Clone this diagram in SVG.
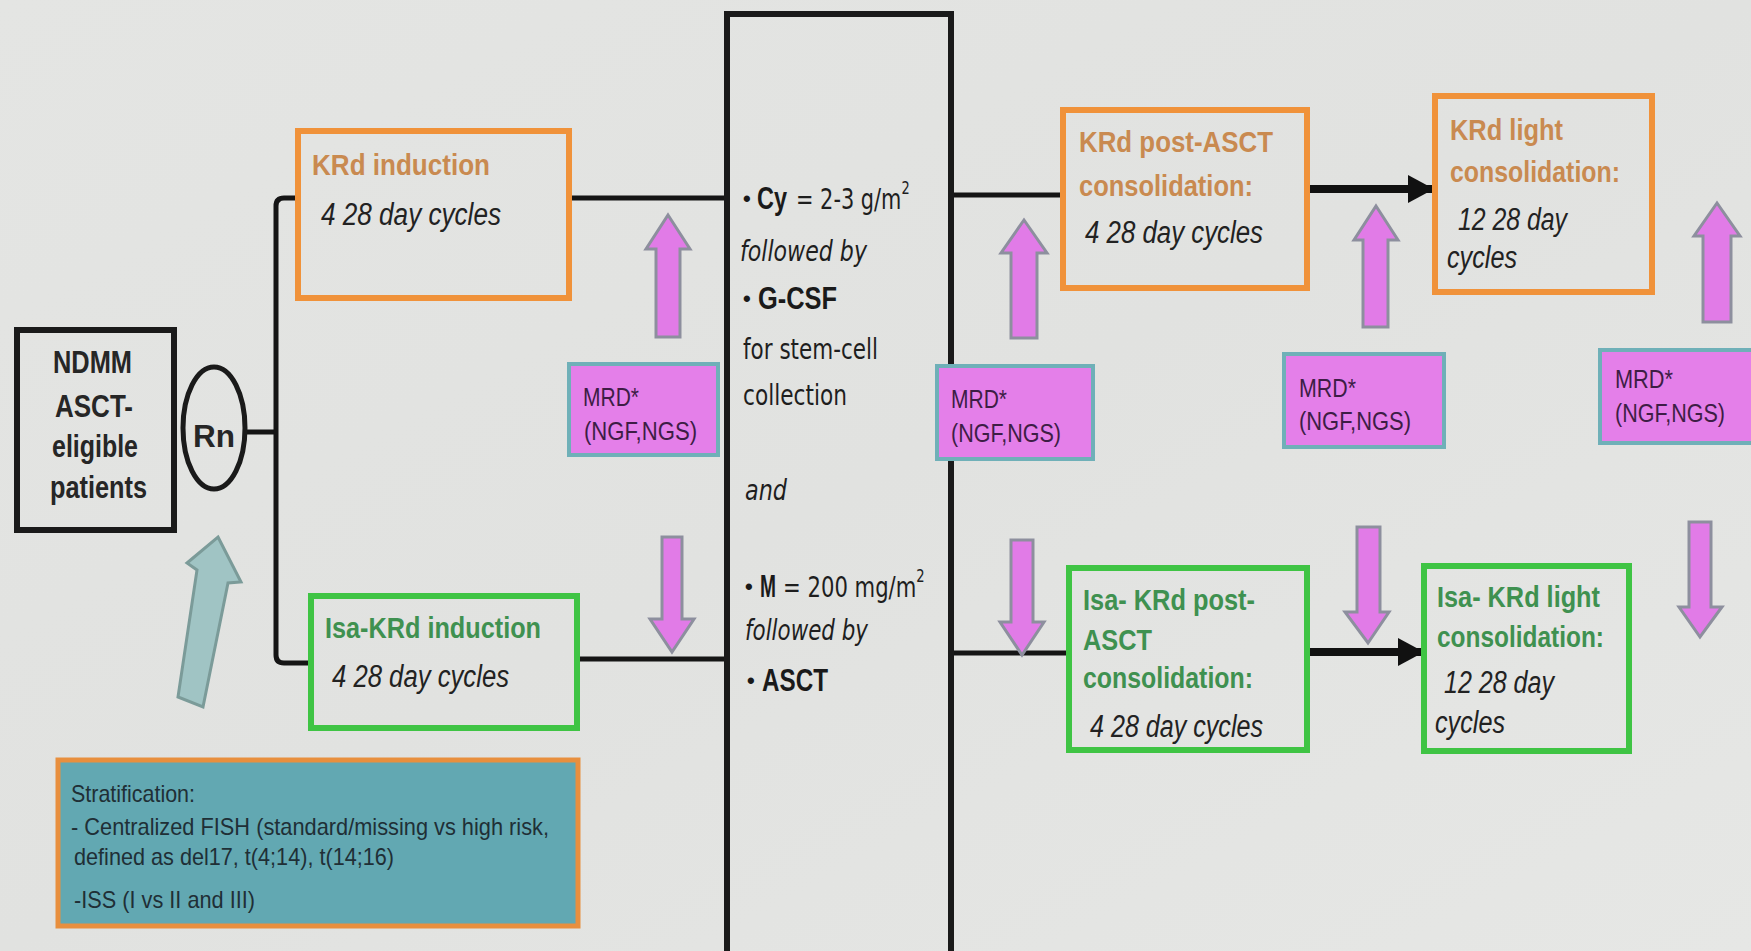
<svg xmlns="http://www.w3.org/2000/svg" width="1751" height="951" viewBox="0 0 1751 951">
  <defs>
    <linearGradient id="bg" x1="0" y1="0" x2="1" y2="1">
      <stop offset="0" stop-color="#e4e5e3"/>
      <stop offset="0.5" stop-color="#e1e2e0"/>
      <stop offset="1" stop-color="#e6e7e5"/>
    </linearGradient>
    <marker id="head" markerUnits="userSpaceOnUse" markerWidth="26" markerHeight="28" refX="24" refY="14" orient="auto">
      <path d="M0,0 L26,14 L0,28 Z" fill="#111"/>
    </marker>
    <style>
      .frame-o { fill: none; stroke: #f0923a; stroke-width: 6; }
      .frame-g { fill: none; stroke: #3fc444; stroke-width: 6; }
      .frame-k { fill: none; stroke: #1a1a1a; stroke-width: 6; }
      .mrd-box { fill: #e47fe9; stroke: #6fb0b8; stroke-width: 4; }
      .mrd { font-family: "Liberation Sans", Arial, sans-serif; font-size: 25px; fill: #3d1d45; }
      .pink { fill: #e17be7; stroke: #8d8f9e; stroke-width: 3; stroke-linejoin: miter; }
      .t-o { font-family: "Liberation Sans", Arial, sans-serif; font-weight: bold; font-size: 30px; fill: #c98a50; }
      .t-g { font-family: "Liberation Sans", Arial, sans-serif; font-weight: bold; font-size: 30px; fill: #3f9150; }
      .it { font-family: "Liberation Sans", Arial, sans-serif; font-style: italic; font-size: 31px; fill: #222; }
      .blk { font-family: "Liberation Sans", Arial, sans-serif; font-weight: bold; font-size: 31px; fill: #262626; }
      .mid { font-family: "DejaVu Sans", Verdana, sans-serif; font-size: 29px; fill: #1e1e1e; }
      .mid-b { font-family: "Liberation Sans", Arial, sans-serif; font-weight: bold; font-size: 31px; fill: #1a1a1a; }
      .mid-i { font-family: "DejaVu Sans", Verdana, sans-serif; font-style: italic; font-size: 29px; fill: #1e1e1e; }
      .dot { font-family: "Liberation Sans", Arial, sans-serif; font-weight: bold; font-size: 22px; fill: #1a1a1a; }
      .sup { font-size: 18px; }
      .strat { font-family: "Liberation Sans", Arial, sans-serif; font-size: 24px; fill: #1f2f36; }
      .wire { fill: none; stroke: #151515; stroke-width: 5; stroke-linejoin: round; }
      .flow { fill: none; stroke: #111; stroke-width: 8; }
    </style>
  </defs>

  <rect x="0" y="0" width="1751" height="951" fill="url(#bg)"/>

  <!-- connectors -->
  <g id="connectors">
    <path class="wire" d="M247,432 H275"/>
    <path class="wire" d="M298,198 H284 Q276,198 276,206 V655 Q276,663 284,663 H310"/>
    <path class="wire" d="M569,198 H726"/>
    <path class="wire" d="M578,659 H726"/>
    <path class="wire" d="M952,195 H1063"/>
    <path class="wire" d="M952,653 H1069"/>
    <path class="flow" d="M1308,189 H1432" marker-end="url(#head)"/>
    <path class="flow" d="M1307,652 H1422" marker-end="url(#head)"/>
  </g>

  <!-- patient population -->
  <g id="ndmm">
    <rect class="frame-k" x="17" y="330" width="157" height="200"/>
    <text class="blk" x="53" y="373" textLength="79" lengthAdjust="spacingAndGlyphs">NDMM</text>
    <text class="blk" x="55" y="417" textLength="78" lengthAdjust="spacingAndGlyphs">ASCT-</text>
    <text class="blk" x="52" y="457" textLength="86" lengthAdjust="spacingAndGlyphs">eligible</text>
    <text class="blk" x="50" y="498" textLength="97" lengthAdjust="spacingAndGlyphs">patients</text>
  </g>

  <!-- randomisation -->
  <g id="rn">
    <ellipse cx="214" cy="428" rx="31" ry="61" fill="none" stroke="#1a1a1a" stroke-width="5"/>
    <text class="blk" x="193" y="447" font-size="37" textLength="42" lengthAdjust="spacingAndGlyphs">Rn</text>
  </g>

  <!-- stratification pointer -->
  <g id="strat-arrow">
    <path d="M218,537 L241,582 L228,583 L203,707 L178,697 L197,570 L187,563 Z" fill="#a0c4c4" stroke="#7b9b99" stroke-width="3" stroke-linejoin="miter"/>
  </g>

  <!-- induction arms -->
  <g id="krd-induction">
    <rect class="frame-o" x="298" y="131" width="271" height="167"/>
    <text class="t-o" x="312" y="175" textLength="178" lengthAdjust="spacingAndGlyphs">KRd induction</text>
    <text class="it" x="321" y="225" textLength="180" lengthAdjust="spacingAndGlyphs">4 28 day cycles</text>
  </g>
  <g id="isa-krd-induction">
    <rect class="frame-g" x="311" y="596" width="266" height="132"/>
    <text class="t-g" x="325" y="638" textLength="216" lengthAdjust="spacingAndGlyphs">Isa-KRd induction</text>
    <text class="it" x="332" y="687" textLength="177" lengthAdjust="spacingAndGlyphs">4 28 day cycles</text>
  </g>

  <!-- stratification factors -->
  <g id="stratification">
    <rect x="58" y="760" width="520" height="166" fill="#62a8b2" stroke="#e88f3e" stroke-width="5"/>
    <text class="strat" x="71" y="802" textLength="124" lengthAdjust="spacingAndGlyphs">Stratification:</text>
    <text class="strat" x="71" y="835" textLength="478" lengthAdjust="spacingAndGlyphs">- Centralized FISH (standard/missing vs high risk,</text>
    <text class="strat" x="74" y="865" textLength="320" lengthAdjust="spacingAndGlyphs">defined as del17, t(4;14), t(14;16)</text>
    <text class="strat" x="74" y="908" textLength="181" lengthAdjust="spacingAndGlyphs">-ISS (I vs II and III)</text>
  </g>

  <!-- mobilisation and transplant -->
  <g id="asct">
    <rect class="frame-k" x="727" y="14" width="224" height="960"/>
    <text class="dot" x="743" y="206">•</text>
    <text class="mid-b" x="757" y="209" textLength="30" lengthAdjust="spacingAndGlyphs">Cy</text>
    <text class="mid" transform="translate(796,209) scale(0.72,1)">= 2-3 g/m<tspan class="sup" dy="-15">2</tspan></text>
    <text class="mid-i" x="740" y="261" textLength="127" lengthAdjust="spacingAndGlyphs">followed by</text>
    <text class="dot" x="743" y="306">•</text>
    <text class="mid-b" x="758" y="309" textLength="79" lengthAdjust="spacingAndGlyphs">G-CSF</text>
    <text class="mid" x="743" y="359" textLength="135" lengthAdjust="spacingAndGlyphs">for stem-cell</text>
    <text class="mid" x="743" y="405" textLength="104" lengthAdjust="spacingAndGlyphs">collection</text>
    <text class="mid-i" x="745" y="500" textLength="42" lengthAdjust="spacingAndGlyphs">and</text>
    <text class="dot" x="745" y="594">•</text>
    <text class="mid-b" x="760" y="597" textLength="16" lengthAdjust="spacingAndGlyphs">M</text>
    <text class="mid" transform="translate(783,597) scale(0.73,1)">= 200 mg/m<tspan class="sup" dy="-15">2</tspan></text>
    <text class="mid-i" x="745" y="640" textLength="123" lengthAdjust="spacingAndGlyphs">followed by</text>
    <text class="dot" x="747" y="688">•</text>
    <text class="mid-b" x="762" y="691" textLength="66" lengthAdjust="spacingAndGlyphs">ASCT</text>
  </g>

  <!-- consolidation arms -->
  <g id="krd-post-asct">
    <rect class="frame-o" x="1063" y="110" width="244" height="178"/>
    <text class="t-o" x="1079" y="152" textLength="194" lengthAdjust="spacingAndGlyphs">KRd post-ASCT</text>
    <text class="t-o" x="1079" y="196" textLength="174" lengthAdjust="spacingAndGlyphs">consolidation:</text>
    <text class="it" x="1085" y="243" textLength="178" lengthAdjust="spacingAndGlyphs">4 28 day cycles</text>
  </g>
  <g id="krd-light">
    <rect class="frame-o" x="1435" y="96" width="217" height="196"/>
    <text class="t-o" x="1450" y="140" textLength="113" lengthAdjust="spacingAndGlyphs">KRd light</text>
    <text class="t-o" x="1450" y="182" textLength="170" lengthAdjust="spacingAndGlyphs">consolidation:</text>
    <text class="it" x="1458" y="230" textLength="109" lengthAdjust="spacingAndGlyphs">12 28 day</text>
    <text class="it" x="1447" y="268" textLength="70" lengthAdjust="spacingAndGlyphs">cycles</text>
  </g>
  <g id="isa-krd-post-asct">
    <rect class="frame-g" x="1069" y="568" width="238" height="182"/>
    <text class="t-g" x="1083" y="610" textLength="172" lengthAdjust="spacingAndGlyphs">Isa- KRd post-</text>
    <text class="t-g" x="1083" y="650" textLength="69" lengthAdjust="spacingAndGlyphs">ASCT</text>
    <text class="t-g" x="1083" y="688" textLength="170" lengthAdjust="spacingAndGlyphs">consolidation:</text>
    <text class="it" x="1090" y="737" textLength="173" lengthAdjust="spacingAndGlyphs">4 28 day cycles</text>
  </g>
  <g id="isa-krd-light">
    <rect class="frame-g" x="1424" y="566" width="205" height="185"/>
    <text class="t-g" x="1437" y="607" textLength="163" lengthAdjust="spacingAndGlyphs">Isa- KRd light</text>
    <text class="t-g" x="1437" y="647" textLength="167" lengthAdjust="spacingAndGlyphs">consolidation:</text>
    <text class="it" x="1444" y="693" textLength="110" lengthAdjust="spacingAndGlyphs">12 28 day</text>
    <text class="it" x="1435" y="733" textLength="70" lengthAdjust="spacingAndGlyphs">cycles</text>
  </g>

  <!-- MRD assessment points -->
  <g id="mrd-1">
    <path class="pink" d="M668,215 L690,249 L680,249 L680,337 L656,337 L656,249 L646,249 Z"/>
    <rect class="mrd-box" x="569" y="364" width="149" height="91"/>
    <text class="mrd" x="583" y="406" textLength="56" lengthAdjust="spacingAndGlyphs">MRD*</text>
    <text class="mrd" x="584" y="440" textLength="113" lengthAdjust="spacingAndGlyphs">(NGF,NGS)</text>
    <path class="pink" d="M662,537 L682,537 L682,619 L694,619 L672,652 L650,619 L662,619 Z"/>
  </g>
  <g id="mrd-2">
    <path class="pink" d="M1024,220 L1047,253 L1037,253 L1037,338 L1011,338 L1011,253 L1001,253 Z"/>
    <rect class="mrd-box" x="937" y="366" width="156" height="93"/>
    <text class="mrd" x="951" y="408" textLength="56" lengthAdjust="spacingAndGlyphs">MRD*</text>
    <text class="mrd" x="951" y="442" textLength="110" lengthAdjust="spacingAndGlyphs">(NGF,NGS)</text>
    <path class="pink" d="M1011,540 L1033,540 L1033,622 L1044,622 L1022,655 L1000,622 L1011,622 Z"/>
  </g>
  <g id="mrd-3">
    <path class="pink" d="M1376,206 L1398,240 L1388,240 L1388,327 L1363,327 L1363,240 L1354,240 Z"/>
    <rect class="mrd-box" x="1284" y="354" width="160" height="93"/>
    <text class="mrd" x="1299" y="397" textLength="57" lengthAdjust="spacingAndGlyphs">MRD*</text>
    <text class="mrd" x="1299" y="430" textLength="112" lengthAdjust="spacingAndGlyphs">(NGF,NGS)</text>
    <path class="pink" d="M1357,527 L1380,527 L1380,612 L1389,612 L1368,643 L1345,612 L1357,612 Z"/>
  </g>
  <g id="mrd-4">
    <path class="pink" d="M1717,203 L1740,236 L1731,236 L1731,322 L1703,322 L1703,236 L1694,236 Z"/>
    <rect class="mrd-box" x="1600" y="350" width="170" height="93"/>
    <text class="mrd" x="1615" y="388" textLength="58" lengthAdjust="spacingAndGlyphs">MRD*</text>
    <text class="mrd" x="1615" y="422" textLength="110" lengthAdjust="spacingAndGlyphs">(NGF,NGS)</text>
    <path class="pink" d="M1689,522 L1711,522 L1711,607 L1722,607 L1700,637 L1679,607 L1689,607 Z"/>
  </g>
</svg>
